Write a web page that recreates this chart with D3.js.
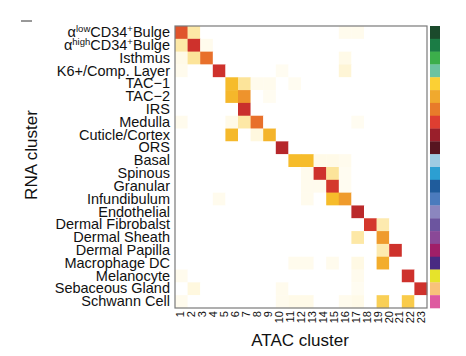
<!DOCTYPE html>
<html><head><meta charset="utf-8">
<script src="https://cdn.jsdelivr.net/npm/d3@7"></script>
<style>
body{margin:0;background:#fff;}
text{font-family:"Liberation Sans",Arial,sans-serif;}
</style></head>
<body><svg id="chart" width="466" height="356"></svg>
<script>
// RNA clusters (rows); ^{..} marks superscript
const rnaClusters = ["α^{low}CD34^{+}Bulge","α^{high}CD34^{+}Bulge","Isthmus","K6+/Comp. Layer","TAC−1","TAC−2","IRS","Medulla","Cuticle/Cortex","ORS","Basal","Spinous","Granular","Infundibulum","Endothelial","Dermal Fibrobalst","Dermal Sheath","Dermal Papilla","Macrophage DC","Melanocyte","Sebaceous Gland","Schwann Cell"];
const rnaColors = ["#1b4a2c","#1b7c45","#3cae4b","#6cc3a0","#fbd034","#f0a92e","#e87b2a","#de3e31","#9a1f2b","#571520","#9dcbe3","#2c9fd2","#1f5c9c","#4b7bbd","#8b86bf","#6c559f","#8a4997","#a01f68","#482a82","#e6e32b","#f8c27a","#de5aa0"];
// ATAC cluster tick labels
const atacLabels = ["1","2","3","4","5","6","7","8","9","10","11","12","13","14","15","16","17","18","19","20","21","22","23"];
// heatmap columns as drawn in the figure
const heatColumns = ["h1","h2","h3","h4","h5","h6","h7","h8","h9","h10","h11","h12","h13","h14","h15","h16","h17","h18","h19","h20"];
// fraction of each RNA cluster in each column (rows = RNA clusters)
const fractions = [
 [0.74,0.20,0,0,0,0,0,0,0,0,0,0,0,0.04,0.04,0,0,0,0,0],
 [0.20,0.86,0.04,0,0,0,0,0,0,0,0,0,0,0,0,0,0,0,0,0],
 [0.05,0.22,0.66,0,0,0,0,0,0,0,0,0,0,0.05,0,0,0,0,0,0],
 [0.04,0,0,0.86,0,0,0,0,0.03,0,0,0,0,0.09,0,0,0,0,0,0],
 [0,0,0,0,0.42,0.22,0.04,0.04,0,0.03,0,0,0,0,0,0,0,0,0,0],
 [0,0,0,0,0.44,0.57,0,0.03,0,0,0,0,0,0,0,0,0,0,0,0],
 [0,0,0,0,0,0.88,0,0,0,0,0,0,0,0,0,0,0,0,0,0],
 [0.04,0,0,0,0.05,0.20,0.66,0,0,0,0,0,0,0,0.03,0,0,0,0,0],
 [0,0,0,0,0.43,0,0.07,0.45,0,0,0,0,0,0,0,0,0,0,0,0],
 [0,0,0,0,0,0,0,0,0.95,0,0,0,0,0,0,0,0,0,0,0],
 [0,0,0,0,0,0,0,0,0,0.42,0.42,0.05,0.05,0.04,0,0,0,0,0,0],
 [0,0,0,0,0,0,0,0,0,0,0.04,0.86,0.22,0.03,0,0,0,0,0,0],
 [0,0,0,0,0,0,0,0,0,0,0.04,0.04,0.83,0.03,0,0,0,0,0,0],
 [0,0,0,0.04,0,0,0,0,0,0,0.04,0,0.42,0.55,0,0,0,0,0,0],
 [0,0,0,0,0,0,0,0,0,0,0,0,0,0,0.93,0,0,0,0,0],
 [0,0,0,0,0,0,0,0,0,0,0,0,0,0,0,0.83,0.18,0,0,0],
 [0,0,0,0,0,0,0,0,0,0,0,0,0,0,0.20,0,0.55,0,0,0],
 [0,0,0,0,0,0,0,0,0,0,0,0,0,0,0,0,0.18,0.86,0,0],
 [0,0,0,0,0,0,0,0,0,0.04,0.04,0,0.04,0,0.06,0,0.48,0,0,0],
 [0.04,0,0,0,0,0,0,0,0,0,0,0,0,0,0.04,0,0,0,0.86,0],
 [0,0.07,0,0,0,0,0,0,0.04,0,0,0,0,0,0.03,0,0,0,0,0.86],
 [0.04,0,0,0,0,0,0,0,0.04,0.05,0.05,0,0,0.04,0.05,0,0.33,0,0.35,0]
];

const svg = d3.select("#chart");
const x = d3.scaleBand().domain(heatColumns).range([175, 427]);
const xLab = d3.scaleBand().domain(atacLabels).range([175, 427]);
const y = d3.scaleBand().domain(rnaClusters).range([26, 308]);
const color = d3.scaleLinear()
  .domain([0, 0.05, 0.2, 0.4, 0.55, 0.7, 0.85, 1])
  .range(["#ffffff","#fffae8","#fde8a6","#f7c12b","#ef9b2c","#e5602a","#d1322c","#a8222a"])
  .clamp(true);

const cells = [];
fractions.forEach((row, i) => row.forEach((v, j) => cells.push({r: rnaClusters[i], c: heatColumns[j], v})));
svg.append("g").selectAll("rect").data(cells).join("rect")
  .attr("x", d => x(d.c)).attr("y", d => y(d.r))
  .attr("width", x.bandwidth() + 0.3).attr("height", y.bandwidth() + 0.3)
  .attr("fill", d => color(d.v));

// frame
svg.append("rect").attr("x", 175).attr("y", 26).attr("width", 252).attr("height", 282)
  .attr("fill", "none").attr("stroke", "#7a7a7a").attr("stroke-width", 1.2);

// colour bar of RNA clusters
svg.append("g").selectAll("rect").data(rnaClusters).join("rect")
  .attr("x", 430).attr("y", d => y(d)).attr("width", 10).attr("height", y.bandwidth() + 0.3)
  .attr("fill", (d, i) => rnaColors[i]);

// y axis
const yAxis = svg.append("g").attr("transform", "translate(175,0)")
  .call(d3.axisLeft(y).tickSize(0).tickPadding(5));
yAxis.select(".domain").remove();
yAxis.selectAll(".tick text").each(function(d) {
  const t = d3.select(this).text(null).attr("font-size", 14.5).attr("fill", "#111")
    .attr("font-family", "'Liberation Sans', Arial, sans-serif");
  const parts = d.split(/(\^\{[^}]*\})/).filter(s => s.length);
  let sup = false;
  parts.forEach(p => {
    if (p.startsWith("^{")) {
      t.append("tspan").text(p.slice(2, -1)).attr("font-size", 9.5).attr("dy", -5);
      sup = true;
    } else {
      t.append("tspan").text(p).attr("dy", sup ? 5 : null);
      sup = false;
    }
  });
});

// x axis
const xAxis = svg.append("g").attr("transform", "translate(0,308)")
  .call(d3.axisBottom(xLab).tickSize(0));
xAxis.select(".domain").remove();
xAxis.selectAll(".tick text")
  .attr("font-size", 11).attr("fill", "#111")
  .attr("font-family", "'Liberation Sans', Arial, sans-serif")
  .attr("transform", "rotate(-90)").attr("text-anchor", "end")
  .attr("x", -3).attr("y", 0).attr("dy", "0.35em");

// axis titles
svg.append("text").attr("x", 300).attr("y", 346).attr("text-anchor", "middle")
  .attr("font-size", 17).attr("fill", "#111").text("ATAC cluster");
svg.append("text").attr("transform", "translate(37,155) rotate(-90)").attr("text-anchor", "middle")
  .attr("font-size", 17).attr("fill", "#111").text("RNA cluster");

// small dash at top-left
svg.append("line").attr("x1", 21).attr("x2", 32).attr("y1", 21).attr("y2", 21)
  .attr("stroke", "#333").attr("stroke-width", 1);
</script></body></html>
